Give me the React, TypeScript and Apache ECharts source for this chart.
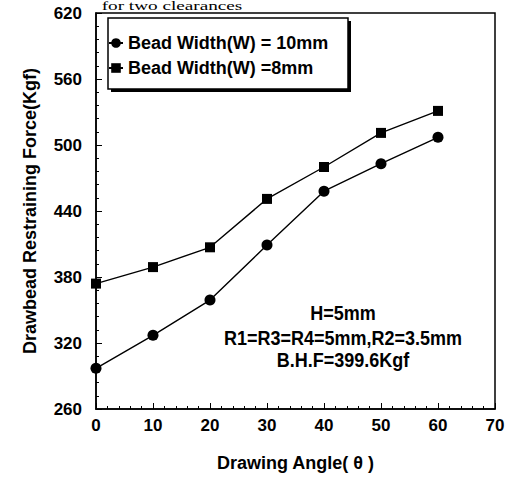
import React, { useEffect, useRef } from "react";
import * as echarts from "echarts";

const angles = [0, 10, 20, 30, 40, 50, 60];
const width10mm = [297, 327, 359, 409, 458, 483, 507];
const width8mm = [374, 389, 407, 451, 480, 511, 531];
const seriesNames = ["Bead Width(W) = 10mm", "Bead Width(W) =8mm"];
const annotations = ["H=5mm", "R1=R3=R4=5mm,R2=3.5mm", "B.H.F=399.6Kgf"];
const topCaption = "for two clearances";
const xTitle = "Drawing Angle( θ )";
const yTitle = "Drawbead Restraining Force(Kgf)";

const FONT = "'Liberation Sans', Arial, sans-serif";

export default function App() {
  const ref = useRef<HTMLDivElement>(null);
  useEffect(() => {
    if (!ref.current) return;
    const chart = echarts.init(ref.current, null, { renderer: "svg" });
    const pair = (vals: number[]) => angles.map((a, i) => [a, vals[i]]);
    chart.setOption({
      animation: false,
      backgroundColor: "#ffffff",
      textStyle: { fontFamily: FONT, color: "#000" },
      grid: {
        left: 96,
        right: 17,
        top: 13,
        bottom: 70,
        show: true,
        borderColor: "#000",
        borderWidth: 1.5,
      },
      xAxis: {
        type: "value",
        min: 0,
        max: 70,
        interval: 10,
        name: xTitle,
        nameLocation: "middle",
        nameGap: 45,
        nameTextStyle: { fontFamily: FONT, fontWeight: "bold", fontSize: 18, color: "#000" },
        axisLine: { show: true, lineStyle: { color: "#000", width: 1.5 } },
        axisTick: { show: true, inside: true, length: 6, lineStyle: { color: "#000" } },
        minorTick: { show: true, splitNumber: 5, length: 3, lineStyle: { color: "#000" } },
        axisLabel: { margin: 8, fontFamily: FONT, fontWeight: "bold", fontSize: 17, color: "#000" },
        splitLine: { show: false },
      },
      yAxis: {
        type: "value",
        min: 260,
        max: 620,
        interval: 60,
        name: yTitle,
        nameLocation: "middle",
        nameGap: 57,
        nameTextStyle: { fontFamily: FONT, fontWeight: "bold", fontSize: 18, color: "#000" },
        axisLine: { show: true, lineStyle: { color: "#000", width: 1.5 } },
        axisTick: { show: true, inside: true, length: 6, lineStyle: { color: "#000" } },
        minorTick: { show: true, splitNumber: 5, length: 3, lineStyle: { color: "#000" } },
        axisLabel: { margin: 14, fontFamily: FONT, fontWeight: "bold", fontSize: 17, color: "#000" },
        splitLine: { show: false },
      },
      legend: {
        orient: "vertical",
        left: 108,
        top: 34,
        padding: 0,
        itemGap: 7,
        itemWidth: 14,
        itemHeight: 12,
        textStyle: { fontFamily: FONT, fontWeight: "bold", fontSize: 18, lineHeight: 18, color: "#000" },
        data: seriesNames,
      },
      graphic: [
        { type: "rect", z: 1, shape: { x: 111, y: 21, width: 240, height: 71 }, style: { fill: "#000" } },
        { type: "rect", z: 1, shape: { x: 108, y: 18, width: 240, height: 71 }, style: { fill: "#fff", stroke: "#000", lineWidth: 1.5 } },
        {
          type: "text",
          x: 172,
          y: 0,
          scaleX: 1.6,
          style: { text: topCaption, font: "12px 'Liberation Serif', serif", fill: "#000", align: "center", verticalAlign: "top" },
        },
        ...annotations.map((t, i) => ({
          type: "text",
          x: 343,
          y: [313, 338, 360][i],
          scaleY: 1.1,
          style: {
            text: t,
            fontFamily: FONT,
            fontWeight: "bold",
            fontSize: 18,
            fill: "#000",
            align: "center",
            verticalAlign: "middle",
          },
        })),
      ],
      series: [
        {
          name: seriesNames[0],
          type: "line",
          data: pair(width10mm),
          symbol: "circle",
          symbolSize: 11,
          itemStyle: { color: "#000" },
          lineStyle: { color: "#000", width: 1.4 },
        },
        {
          name: seriesNames[1],
          type: "line",
          data: pair(width8mm),
          symbol: "rect",
          symbolSize: 10,
          itemStyle: { color: "#000" },
          lineStyle: { color: "#000", width: 1.4 },
        },
      ],
    });
    return () => chart.dispose();
  }, []);
  return <div ref={ref} style={{ position: "fixed", left: 0, top: 0, width: 512, height: 479 }} />;
}
